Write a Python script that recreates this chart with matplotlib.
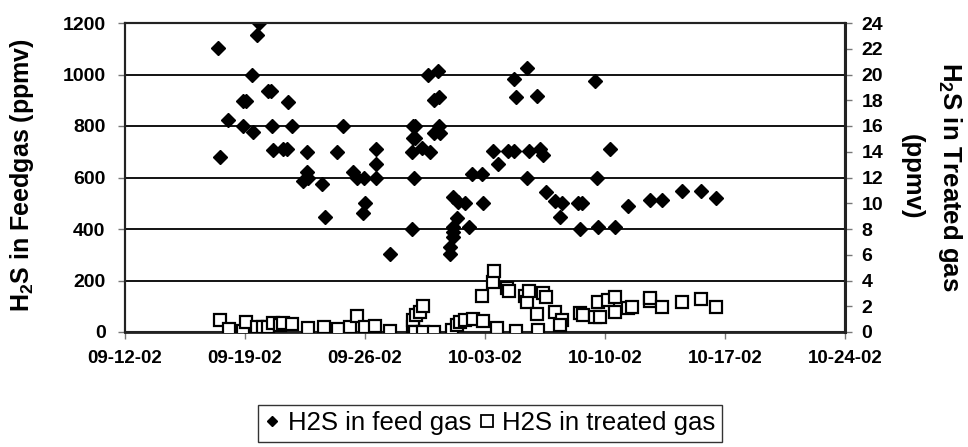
import datetime as dt
import matplotlib
matplotlib.use("Agg")
import matplotlib.pyplot as plt
from matplotlib.lines import Line2D

plt.rcParams['font.family'] = ['Liberation Sans', 'DejaVu Sans']
plt.rcParams['mathtext.fontset'] = 'custom'
plt.rcParams['mathtext.rm'] = 'Liberation Sans:bold'
plt.rcParams['mathtext.it'] = 'Liberation Sans:bold'
plt.rcParams['mathtext.bf'] = 'Liberation Sans:bold'

START = dt.datetime(2002, 9, 12)

# Feed gas H2S (ppmv), day offset from 09-12-02
feed_days = [5.41, 5.54, 5.99, 6.87, 7.04, 6.87, 7.39, 7.49, 7.72, 7.84,
             8.33, 8.50, 8.56, 8.65, 9.24, 9.43, 9.53, 9.72, 10.6, 10.6,
             10.4, 10.7, 11.51, 11.67, 12.39, 12.70, 13.32, 13.55, 13.96, 14.0,
             13.87, 14.63, 14.63, 14.63, 15.46, 16.72, 16.80, 16.90, 16.80, 16.90,
             16.72, 17.3, 17.8, 16.86, 17.7, 18.24, 18.03, 18.34, 18.34, 18.0,
             18.4, 19.15, 19.45, 19.84, 19.35, 19.12, 19.12, 19.12, 18.96, 18.96,
             20.07, 20.27, 20.81, 20.9, 21.49, 22.36, 22.7, 21.74, 22.7, 22.81,
             23.43, 23.47, 23.58, 24.02, 24.2, 24.4, 24.54, 25.09, 25.51, 25.38,
             26.45, 26.64, 26.55, 27.42, 27.52, 27.6, 28.3, 28.6, 29.37, 30.6,
             31.35, 32.48, 33.59, 34.46]
feed_ppmv = [1101, 681, 823, 898, 898, 800, 998, 778, 1152, 1199,
             936, 936, 800, 707, 709, 709, 892, 800, 700, 620,
             588, 597, 575, 448, 700, 800, 620, 597, 597, 500,
             463, 709, 652, 597, 302, 400, 800, 800, 752, 752,
             700, 713, 700, 597, 998, 1013, 901, 914, 800, 771,
             771, 525, 506, 500, 441, 407, 390, 370, 329, 302,
             407, 612, 612, 500, 703, 703, 703, 652, 981, 911,
             1024, 597, 703, 918, 709, 687, 545, 510, 500, 448,
             500, 500, 400, 976, 597, 407, 709, 407, 490, 513,
             513, 547, 547, 519]

# Treated gas H2S (ppmv), day offset from 09-12-02
treated_days = [5.54, 6.09, 6.90, 7.06, 7.68, 8.07, 8.36, 8.65, 9.04, 9.24,
                9.72, 10.7, 11.61, 12.45, 13.13, 13.55, 14.0, 14.59, 15.46, 16.82,
                16.82, 17.0, 17.2, 17.4, 16.9, 17.4, 18.0, 19.06, 19.35, 19.54,
                19.84, 20.32, 20.9, 20.81, 21.49, 21.55, 21.68, 22.27, 22.42, 22.8,
                23.34, 23.44, 23.59, 24.02, 24.1, 24.4, 24.54, 25.09, 25.51, 25.38,
                26.55, 26.7, 27.42, 27.6, 28.2, 27.7, 28.59, 28.59, 29.37, 29.56,
                30.6, 30.63, 31.35, 32.48, 33.6, 34.46]
treated_ppmv = [0.93, 0.23, 0.08, 0.75, 0.41, 0.41, 0.41, 0.68, 0.54, 0.68,
                0.60, 0.29, 0.41, 0.23, 0.41, 1.24, 0.41, 0.47, 0.10, 0.41,
                0.93, 1.32, 1.58, 2.02, 0.02, 0.02, 0.02, 0.15, 0.54, 0.80,
                0.93, 0.98, 0.85, 2.80, 3.91, 4.74, 0.29, 3.39, 3.18, 0.10,
                2.82, 2.35, 3.18, 1.40, 0.15, 3.00, 2.70, 1.58, 0.93, 0.54,
                1.45, 1.32, 1.14, 2.35, 2.49, 1.19, 2.70, 1.58, 1.89, 1.97,
                2.43, 2.62, 1.97, 2.35, 2.54, 1.97]

x_tick_labels = ['09-12-02', '09-19-02', '09-26-02', '10-03-02', '10-10-02', '10-17-02', '10-24-02']

feed_dates = [START + dt.timedelta(days=d) for d in feed_days]
treated_dates = [START + dt.timedelta(days=d) for d in treated_days]
tick_dates = [dt.datetime.strptime(s, '%m-%d-%y') for s in x_tick_labels]

fig = plt.figure(figsize=(9.68, 4.47), dpi=100)
ax = fig.add_axes([125/968, 1-332/447, 720/968, 309/447])
ax2 = ax.twinx()

ax.set_xlim(tick_dates[0], tick_dates[-1])
ax.set_ylim(0, 1200)
ax2.set_ylim(0, 24)

ax.set_yticks(range(0, 1201, 200))
for yv in range(200, 1201, 200):
    ax.axhline(yv, color='black', lw=1.3, zorder=1)

ax.set_xticks(tick_dates)
ax.set_xticklabels(x_tick_labels)
ax2.set_yticks(range(0, 25, 2))

for a in (ax, ax2):
    for s in a.spines.values():
        s.set_color('#222222')
        s.set_linewidth(1.5)
ax2.spines['right'].set_linewidth(2.2)
ax.spines['bottom'].set_linewidth(2.0)

tick_kw = dict(direction='out', length=5, width=1.0, color='#777777',
               labelcolor='black')
ax.tick_params(axis='y', pad=9, labelsize=14, **tick_kw)
ax.tick_params(axis='x', pad=8, labelsize=13.5, **tick_kw)
ax2.tick_params(axis='y', pad=7, labelsize=14, **tick_kw)
for lab in ax.get_xticklabels() + ax.get_yticklabels() + ax2.get_yticklabels():
    lab.set_fontweight('bold')

ax.plot(feed_dates, feed_ppmv, linestyle='none', marker='D', markersize=7.5,
        color='black', markeredgecolor='black', zorder=3, label='H2S in feed gas')
ax2.plot(treated_dates, treated_ppmv, linestyle='none', marker='s', markersize=8,
         markerfacecolor='white', markeredgecolor='black', markeredgewidth=1.6,
         zorder=4, label='H2S in treated gas')

fig.text(22/968, 1-175/447, r'H$_2$S in Feedgas (ppmv)', rotation=90, fontsize=18,
         fontweight='bold', ha='center', va='center')
fig.text(950/968, 1-177/447, r'H$_2$S in Treated gas', rotation=-90, fontsize=18.5,
         fontweight='bold', ha='center', va='center')
fig.text(912/968, 1-177/447, '(ppmv)', rotation=-90, fontsize=18.5,
         fontweight='bold', ha='center', va='center')

handles = [Line2D([], [], linestyle='none', marker='D', markersize=5.5, color='black'),
           Line2D([], [], linestyle='none', marker='s', markersize=8, markerfacecolor='white',
                  markeredgecolor='black', markeredgewidth=1.3)]
leg = fig.legend(handles, ['H2S in feed gas', 'H2S in treated gas'], loc='upper center',
                 bbox_to_anchor=(490/968, 1-405/447), ncol=2, fontsize=18.5,
                 frameon=True, fancybox=False, edgecolor='black', handlelength=0.6,
                 handletextpad=0.3, columnspacing=0.3, borderpad=0.25,
                 borderaxespad=0)
leg.get_frame().set_linewidth(1.0)

fig.savefig('out.png', dpi=100)
